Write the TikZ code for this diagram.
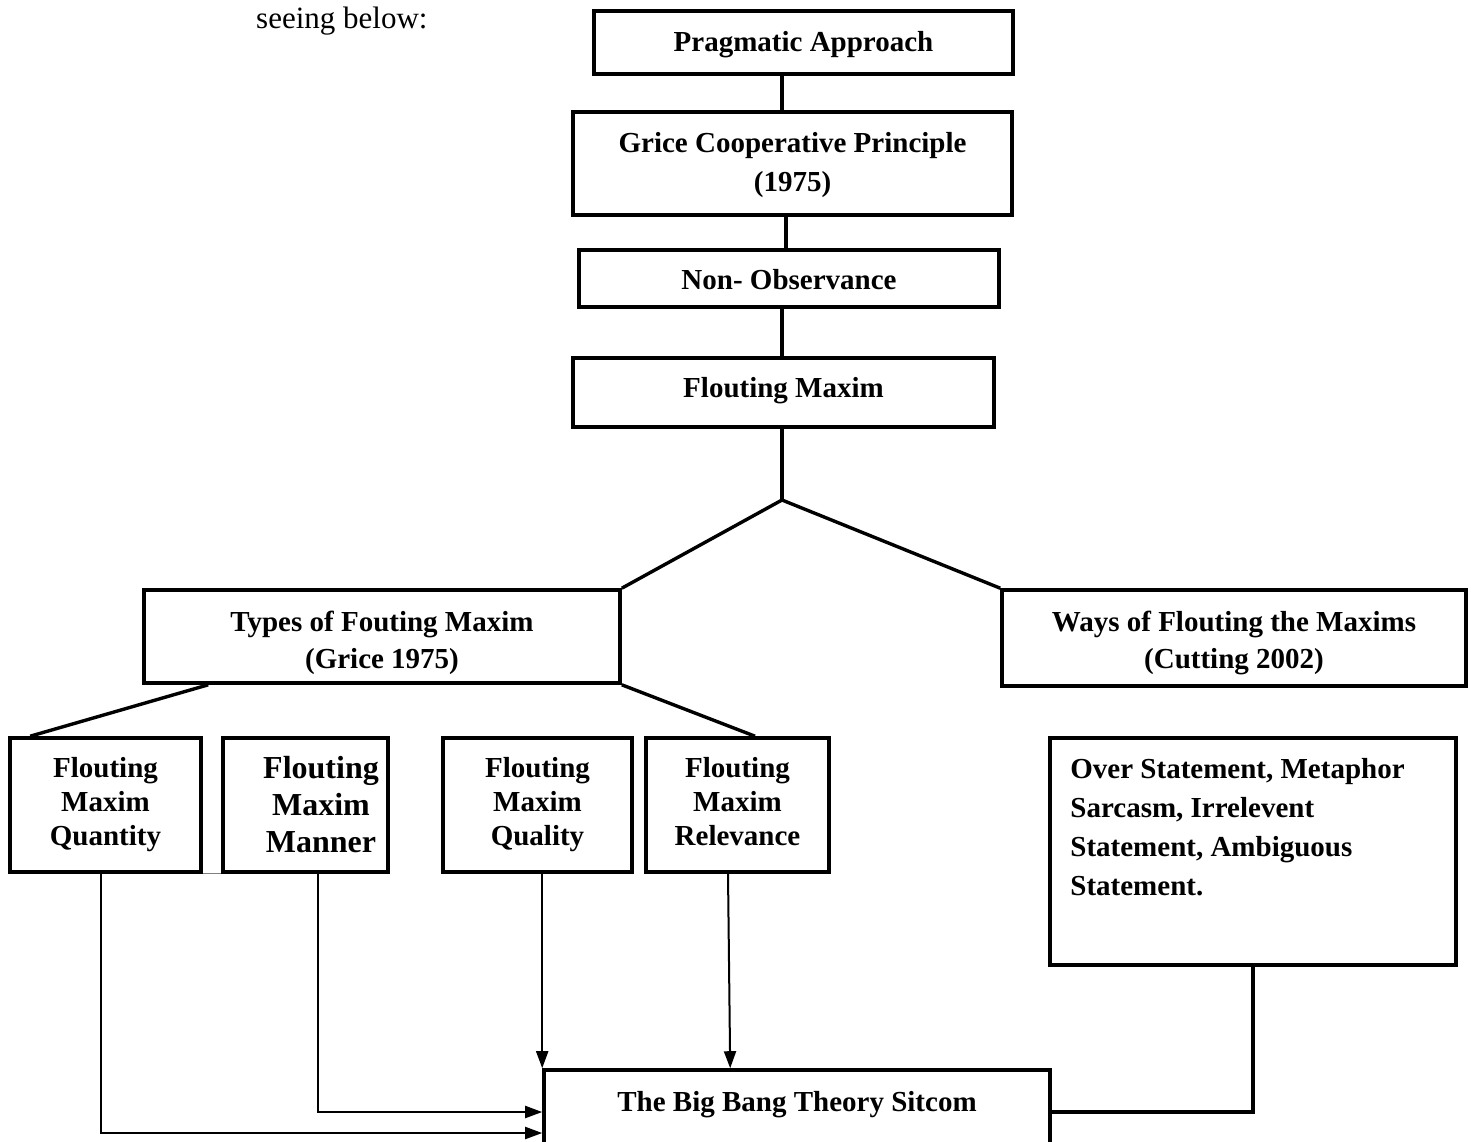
\documentclass[tikz,border=0pt]{standalone}
\usepackage{fontspec}
\setmainfont{Liberation Serif}
\usetikzlibrary{arrows.meta,calc}
\begin{document}
\begin{tikzpicture}[x=1pt,y=-1pt,
  box/.style={draw,line width=3.6pt,rectangle,inner sep=0pt},
  txt/.style={inner sep=0pt,align=center,font=\bfseries\fontsize{29}{37}\selectfont},
  conn/.style={line width=3.4pt},
  arr/.style={line width=2pt,-{Triangle[length=17pt,width=12pt]}}]
\useasboundingbox (0,0) rectangle (1472,1141);
\clip (0,0) rectangle (1472,1141);
% text above
\node[anchor=base west,inner sep=0pt,font=\fontsize{31}{36}\selectfont] (seeing) at (256,28) {seeing below:};
% boxes
\node[box,minimum width=419pt,minimum height=63pt] (pa) at (803.5,42.5) {};
\node[txt] (pat) at ($(pa.center)+(0,2)$) {Pragmatic Approach};
\node[box,minimum width=439pt,minimum height=103pt] (gc) at (792.5,163.5) {};
\node[txt,font=\bfseries\fontsize{29}{39}\selectfont] (gct) at ($(gc.center)+(0,2)$) {Grice Cooperative Principle\\(1975)};
\node[box,minimum width=420pt,minimum height=57pt] (no) at (789,278.5) {};
\node[txt] (not) at ($(no.center)+(0,1)$) {Non- Observance};
\node[box,minimum width=421pt,minimum height=69pt] (fm) at (783.5,392.5) {};
\node[txt] (fmt) at ($(fm.center)+(0,-2)$) {Flouting Maxim};
\node[box,minimum width=476pt,minimum height=93pt] (ty) at (382,636.5) {};
\node[txt] (tyt) at ($(ty.center)+(0,6)$) {Types of Fouting Maxim\\(Grice 1975)};
\node[box,minimum width=464pt,minimum height=96pt] (wy) at (1234,638) {};
\node[txt] (wyt) at ($(wy.center)+(0,5)$) {Ways of Flouting the Maxims\\(Cutting 2002)};
\node[box,minimum width=191pt,minimum height=134pt] (q1) at (105.5,805) {};
\node[txt,font=\bfseries\fontsize{29}{34}\selectfont] (q1t) at (q1.center) {Flouting\\Maxim\\Quantity};
\node[box,minimum width=165pt,minimum height=134pt] (q2) at (305.5,805) {};
\node[txt,font=\bfseries\fontsize{32}{37}\selectfont] (q2t) at ($(q2.center)+(15.5,0)$) {Flouting\\Maxim\\Manner};
\node[box,minimum width=189pt,minimum height=134pt] (q3) at (537.5,805) {};
\node[txt,font=\bfseries\fontsize{29}{34}\selectfont] (q3t) at (q3.center) {Flouting\\Maxim\\Quality};
\node[box,minimum width=183pt,minimum height=134pt] (q4) at (737.5,805) {};
\node[txt,font=\bfseries\fontsize{29}{34}\selectfont] (q4t) at ($(q4.center)+(0,-3)$) {Flouting\\Maxim\\Relevance};
\node[box,minimum width=406pt,minimum height=227pt] (ov) at (1253,851.5) {};
\node[anchor=north west,inner sep=0pt,align=left,font=\bfseries\fontsize{29}{39}\selectfont] (ovt) at ($(ov.north west)+(22,22)$) {Over Statement, Metaphor\\Sarcasm, Irrelevent\\Statement, Ambiguous\\Statement.};
\node[box,minimum width=506pt,minimum height=84pt] (bb) at (797,1112) {};
\node[txt] (bbt) at ($(bb.center)+(0,-7)$) {The Big Bang Theory Sitcom};
% junction
\coordinate (j) at (782,500);
% connectors
\draw[conn] (pa.south -| j) -- (gc.north -| j);
\draw[conn] ($(gc.south -| j)+(4,0)$) -- ($(no.north -| j)+(4,0)$);
\draw[conn] (no.south -| j) -- (fm.north -| j);
\draw[conn] (fm.south -| j) -- (j);
\draw[conn] (j) -- (ty.north east);
\draw[conn] (j) -- (wy.north west);
\draw[conn] ($(ty.south west)+(66,0)$) -- ($(q1.north west)+(22,0)$);
\draw[conn] ($(q2.north)+(7.5,0)$ |- ty.south) -- ($(q2.north)+(7.5,0)$);
\draw[conn] ($(q3.north)+(-7.5,0)$ |- ty.south) -- ($(q3.north)+(-7.5,0)$);
\draw[conn] (ty.south east) -- ($(q4.north)+(17.5,0)$);
\draw[conn] ($(wy.south)+(3,0)$) -- ($(wy.south)+(3,0)$ |- ov.north);
\draw[conn] (ov.south) |- (bb.east);
\draw[line width=1pt,gray] (q1.south east) -- (q2.south west);
\draw[arr] ($(q4.south)+(-9.5,0)$) -- ($(bb.north west)+(188,0)$);
\draw[arr] (q3.south -| bb.north west) -- (bb.north west);
\draw[arr] ($(q2.south)+(12.5,0)$) |- (bb.west);
\draw[arr] ($(q1.south)+(-4.5,0)$) |- ($(bb.west)+(0,21)$);
\end{tikzpicture}
\end{document}
